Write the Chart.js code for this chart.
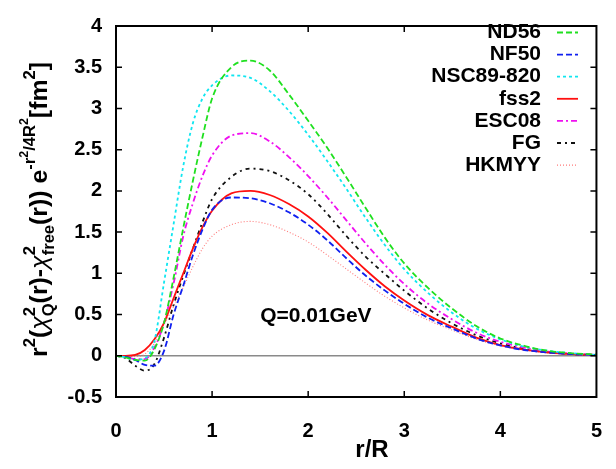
<!DOCTYPE html>
<html>
<head>
<meta charset="utf-8">
<script src="https://cdn.jsdelivr.net/npm/chart.js@4.4.1/dist/chart.umd.min.js"></script>
<style>
  html, body { margin: 0; padding: 0; background: #fff; }
  #wrap { width: 616px; height: 469px; }
</style>
</head>
<body>
<div id="wrap"><canvas id="chart" width="616" height="469"></canvas></div>
<script>
// r/R sample points
const rValues = [0, 0.1, 0.2, 0.3, 0.4, 0.5, 0.6, 0.7, 0.8, 0.9, 1.0, 1.2, 1.4, 1.6, 1.8, 2.0, 2.2, 2.4, 2.6, 2.8, 3.0, 3.25, 3.5, 3.75, 4.0, 4.25, 4.5, 4.75, 5.0];

// curves
const nd56  = [0, -0.02, -0.05, -0.06, 0.08, 0.40, 0.95, 1.55, 2.12, 2.65, 3.12, 3.50, 3.58, 3.46, 3.17, 2.85, 2.52, 2.16, 1.79, 1.43, 1.12, 0.82, 0.57, 0.36, 0.21, 0.12, 0.06, 0.03, 0.015];
const nf50  = [0, -0.01, -0.05, -0.11, -0.12, 0.06, 0.50, 0.85, 1.22, 1.53, 1.77, 1.92, 1.91, 1.85, 1.74, 1.59, 1.40, 1.18, 0.97, 0.79, 0.63, 0.46, 0.33, 0.21, 0.125, 0.07, 0.04, 0.02, 0.01];
const nsc89 = [0, -0.02, -0.05, -0.03, 0.18, 0.89, 1.60, 2.30, 2.82, 3.12, 3.28, 3.40, 3.37, 3.21, 2.97, 2.68, 2.36, 2.02, 1.67, 1.34, 1.05, 0.76, 0.52, 0.33, 0.20, 0.11, 0.06, 0.03, 0.01];
const fss2  = [0, 0.00, 0.01, 0.07, 0.20, 0.40, 0.70, 1.00, 1.30, 1.56, 1.76, 1.97, 2.00, 1.95, 1.84, 1.69, 1.49, 1.26, 1.04, 0.84, 0.67, 0.49, 0.35, 0.22, 0.13, 0.075, 0.04, 0.02, 0.01];
const esc08 = [0, -0.01, -0.04, -0.04, 0.10, 0.40, 0.88, 1.45, 1.85, 2.18, 2.43, 2.67, 2.70, 2.60, 2.41, 2.18, 1.92, 1.64, 1.36, 1.10, 0.87, 0.63, 0.44, 0.28, 0.17, 0.10, 0.05, 0.025, 0.01];
const fg    = [0, -0.03, -0.12, -0.18, -0.10, 0.22, 0.62, 0.97, 1.30, 1.62, 1.90, 2.17, 2.27, 2.24, 2.13, 1.96, 1.72, 1.45, 1.20, 0.99, 0.79, 0.57, 0.39, 0.25, 0.15, 0.085, 0.045, 0.02, 0.01];
const hkmyy = [0, 0.00, -0.01, 0.02, 0.15, 0.38, 0.60, 0.83, 1.08, 1.30, 1.45, 1.59, 1.63, 1.59, 1.50, 1.38, 1.22, 1.05, 0.88, 0.72, 0.58, 0.43, 0.31, 0.20, 0.12, 0.07, 0.035, 0.02, 0.01];

const seriesNames = ['ND56', 'NF50', 'NSC89-820', 'fss2', 'ESC08', 'FG', 'HKMYY'];
const xTicks = [0, 1, 2, 3, 4, 5];
const yTicks = [-0.5, 0, 0.5, 1, 1.5, 2, 2.5, 3, 3.5, 4];

const FONT = '"Liberation Sans", Arial, sans-serif';

const styles = [
  { color: '#1fe01f', dash: [6, 3], width: 1.8 },
  { color: '#1020f0', dash: [6, 3], width: 1.8 },
  { color: '#10e6f0', dash: [3, 3], width: 1.8 },
  { color: '#ff1010', dash: [], width: 1.8 },
  { color: '#f010f0', dash: [6, 3, 2, 3], width: 1.8 },
  { color: '#111111', dash: [4, 4, 2, 4], width: 1.8 },
  { color: '#ff7a7a', dash: [1, 2], width: 1.1 },
];

const toPoints = arr => rValues.map((r, i) => ({ x: r, y: arr[i] }));
const allSeries = [nd56, nf50, nsc89, fss2, esc08, fg, hkmyy];

const datasets = allSeries.map((s, i) => ({
  label: seriesNames[i],
  data: toPoints(s),
  borderColor: styles[i].color,
  borderDash: styles[i].dash,
  borderWidth: styles[i].width,
  pointRadius: 0,
  fill: false,
  cubicInterpolationMode: 'monotone',
}));

// inward ticks on all four sides + frame
const framePlugin = {
  id: 'frame',
  afterDatasetsDraw(chart) {
    const { ctx, chartArea: a, scales: { x, y } } = chart;
    ctx.save();
    ctx.strokeStyle = '#000';
    ctx.lineWidth = 1.5;
    ctx.beginPath();
    xTicks.slice(1, -1).forEach(v => {
      const p = x.getPixelForValue(v);
      ctx.moveTo(p, a.bottom); ctx.lineTo(p, a.bottom - 6);
      ctx.moveTo(p, a.top); ctx.lineTo(p, a.top + 6);
    });
    yTicks.slice(1, -1).forEach(v => {
      const p = y.getPixelForValue(v);
      ctx.moveTo(a.left, p); ctx.lineTo(a.left + 6, p);
      ctx.moveTo(a.right, p); ctx.lineTo(a.right - 6, p);
    });
    ctx.stroke();
    ctx.lineWidth = 2;
    ctx.strokeRect(a.left, a.top, a.right - a.left, a.bottom - a.top);
    ctx.restore();
  },
};

// gnuplot style key: right-aligned names, sample line on the right
const keyPlugin = {
  id: 'key',
  afterDraw(chart) {
    const { ctx } = chart;
    ctx.save();
    ctx.font = 'bold 21px ' + FONT;
    ctx.textAlign = 'right';
    ctx.textBaseline = 'middle';
    chart.data.datasets.forEach((ds, i) => {
      const yy = 32.5 + i * 22.1;
      ctx.fillStyle = '#000';
      ctx.fillText(ds.label, 541, yy);
      ctx.strokeStyle = ds.borderColor;
      ctx.lineWidth = ds.borderWidth;
      ctx.setLineDash(ds.borderDash);
      ctx.beginPath();
      ctx.moveTo(557, yy); ctx.lineTo(578, yy);
      ctx.stroke();
      ctx.setLineDash([]);
    });
    // Q label
    const { x, y } = chart.scales;
    ctx.textAlign = 'left';
    ctx.font = 'bold 21px ' + FONT;
    ctx.fillStyle = '#000';
    ctx.fillText('Q=0.01GeV', x.getPixelForValue(1.5), y.getPixelForValue(0.48));
    // x title
    ctx.textAlign = 'center';
    ctx.font = 'bold 24px ' + FONT;
    ctx.fillText('r/R', 372, 450);
    ctx.restore();
  },
};

// y title with super/subscripts, drawn rotated
const yTitleParts = [
  { t: 'r', l: 0 }, { t: '2', l: 1 }, { t: '(', l: 0 }, { t: 'χ', l: 0, thin: true },
  { t: '2', l: 1, sub: 'Q' }, { t: '(r)-', l: 0 }, { t: 'χ', l: 0, thin: true },
  { t: '2', l: 1, sub: 'free' }, { t: '(r)) e', l: 0 }, { t: '-r', l: 1 },
  { t: '2', l: 2 }, { t: '/4R', l: 1 }, { t: '2', l: 2 }, { t: '[fm', l: 0 },
  { t: '2', l: 1 }, { t: ']', l: 0 },
];
const levels = [
  { size: 24, dy: 0 },
  { size: 16, dy: -12 },
  { size: 12, dy: -19 },
];
const yTitlePlugin = {
  id: 'ytitle',
  afterDraw(chart) {
    const { ctx } = chart;
    ctx.save();
    const font = (s, thin) => `${thin ? 'italic ' : 'bold '}${s}px ${FONT}`;
    let total = 0;
    const widths = yTitleParts.map(p => {
      ctx.font = font(levels[p.l].size, p.thin);
      let w = ctx.measureText(p.t).width;
      if (p.sub) { ctx.font = font(16); w = Math.max(w, ctx.measureText(p.sub).width); }
      total += w;
      return w;
    });
    const span = 295;
    const k = span / total;
    ctx.translate(47, 209.5);
    ctx.rotate(-Math.PI / 2);
    ctx.scale(k, 1);
    ctx.fillStyle = '#000';
    ctx.textAlign = 'left';
    ctx.textBaseline = 'alphabetic';
    let cx = -total / 2;
    yTitleParts.forEach((p, i) => {
      ctx.font = font(levels[p.l].size, p.thin);
      ctx.fillText(p.t, cx, levels[p.l].dy);
      if (p.sub) { ctx.font = font(16); ctx.fillText(p.sub, cx, 7); }
      cx += widths[i];
    });
    ctx.restore();
  },
};

new Chart(document.getElementById('chart'), {
  type: 'line',
  data: { datasets },
  options: {
    responsive: false,
    animation: false,
    devicePixelRatio: 1,
    layout: { padding: { top: 18, right: 12, left: 0, bottom: 0 } },
    plugins: { legend: { display: false }, tooltip: { enabled: false } },
    scales: {
      x: {
        type: 'linear', min: 0, max: 5,
        afterBuildTicks: s => { s.ticks = xTicks.map(v => ({ value: v })); },
        ticks: { color: '#000', padding: 14, font: { family: FONT, size: 20, weight: 'bold' }, callback: v => String(v) },
        grid: { display: false },
        border: { display: false },
        afterFit: s => { s.height = 72; },
      },
      y: {
        min: -0.5, max: 4,
        afterBuildTicks: s => { s.ticks = yTicks.map(v => ({ value: v })); },
        ticks: { color: '#000', padding: 14, font: { family: FONT, size: 20, weight: 'bold' }, callback: v => String(v) },
        grid: {
          drawTicks: false,
          lineWidth: 1.5,
          color: c => (c.tick && c.tick.value === 0 ? '#8a8a8a' : 'rgba(0,0,0,0)'),
        },
        border: { display: false },
        afterFit: s => { s.width = 116; },
      },
    },
  },
  plugins: [framePlugin, keyPlugin, yTitlePlugin],
});
</script>
</body>
</html>
